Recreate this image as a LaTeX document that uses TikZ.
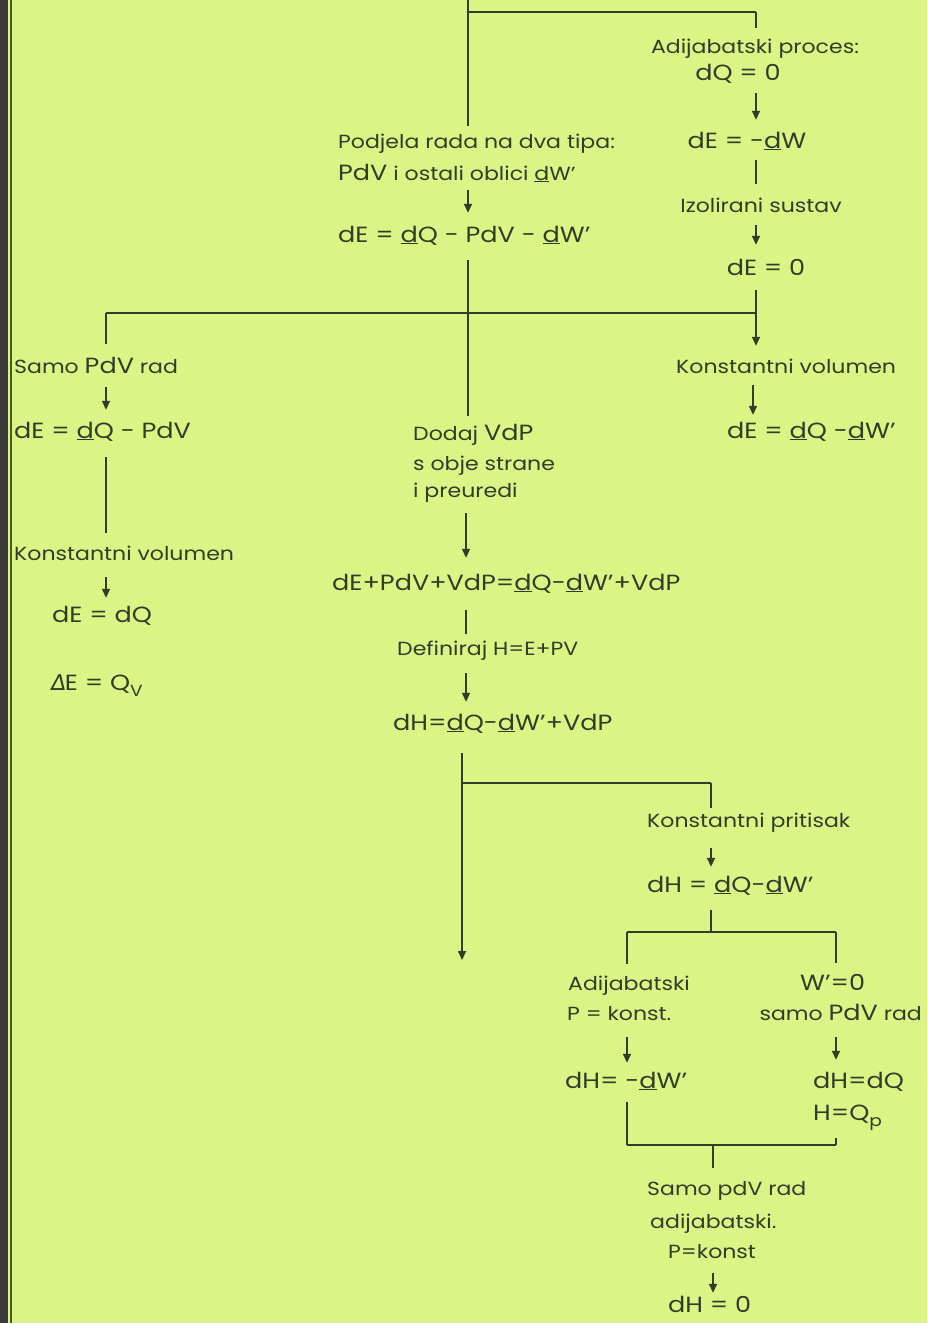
\documentclass[tikz,border=0pt]{standalone}
\usepackage{fontspec}
\setmainfont{Poppins}[FakeStretch=1.16]
\newfontfamily\symf{DejaVu Sans}[FakeSlant=0.15]
\usetikzlibrary{calc,arrows.meta}
\definecolor{bg}{RGB}{218,245,134}
\definecolor{ink}{RGB}{52,60,38}
\definecolor{strip}{RGB}{58,58,56}
\definecolor{edge}{RGB}{70,92,34}
\newcommand{\ud}{\underline{d}}
\newcommand{\bp}[1]{{\fontsize{22}{22}\selectfont #1}}
\begin{document}
\begin{tikzpicture}[x=1pt,y=-1pt,
  lab/.style={inner sep=0pt,text=ink,font=\fontsize{19}{20}\selectfont,text height=14pt,text depth=4pt},
  eq/.style={inner sep=0pt,text=ink,font=\fontsize{22}{23}\selectfont,text height=15pt,text depth=4pt},
  ln/.style={draw=ink,line width=1.6pt},
  arr/.style={ln,-{Triangle[length=9pt,width=8pt]}}]
\useasboundingbox (0,0) rectangle (927,1323);
\fill[bg] (0,0) rectangle (927,1323);
\fill[strip] (0,0) rectangle (8,1323);
\draw[edge,line width=2.5pt] (11,0) -- (11,1323);
% columns
\coordinate (cR) at (756,0);
\coordinate (cR2) at (753,0);
\coordinate (cM) at (468,0);
\coordinate (cM2) at (466,0);
\coordinate (cM3) at (462,0);
\coordinate (cL) at (106,0);
\coordinate (cK) at (711,0);
\coordinate (cK2) at (713,0);
\coordinate (cA) at (627,0);
\coordinate (cW) at (836,0);
% right top branch
\node[lab,anchor=base] (T1) at (755,53) {Adijabatski proces:};
\node[eq,anchor=base] (T2) at (738,80) {dQ = 0};
\node[eq,anchor=base] (T3) at (747,148) {dE = -\ud W};
\node[lab,anchor=base] (T4) at (761,212) {Izolirani sustav};
\node[eq,anchor=base] (T5) at (766,275) {dE = 0};
% middle top
\node[lab,anchor=base west] (T6) at (338,148) {Podjela rada na dva tipa:};
\node[lab,anchor=base west] (T7) at (338,180) {\bp{PdV} i ostali oblici \ud W'};
\node[eq,anchor=base west] (T8) at (338,242) {dE = \ud Q - PdV - \ud W'};
% left
\node[lab,anchor=base west] (T9) at (14,373) {Samo \bp{PdV} rad};
\node[eq,anchor=base west] (T10) at (14,438) {dE = \ud Q - PdV};
\node[lab,anchor=base west] (T11) at (14,560) {Konstantni volumen};
\node[eq,anchor=base west] (T12) at (52,622) {dE = dQ};
\node[eq,anchor=base west] (T13) at (50,690) {{\symf ∆}E = Q\raisebox{-0.5ex}{\fontsize{16}{16}\selectfont V}};
% right middle
\node[lab,anchor=base west] (T14) at (676,373) {Konstantni volumen};
\node[eq,anchor=base west] (T15) at (727,438) {dE = \ud Q -\ud W'};
% middle
\node[lab,anchor=base west] (T16) at (413,440) {Dodaj \bp{VdP}};
\node[lab,anchor=base west] (T17) at (413,470) {s obje strane};
\node[lab,anchor=base west] (T18) at (413,497) {i preuredi};
\node[eq,anchor=base west] (T19) at (332,590) {dE+PdV+VdP=\ud Q-\ud W'+VdP};
\node[lab,anchor=base west] (T20) at (397,655) {Definiraj H=E+PV};
\node[eq,anchor=base west] (T21) at (393,730) {dH=\ud Q-\ud W'+VdP};
% lower right
\node[lab,anchor=base west] (T22) at (647,827) {Konstantni pritisak};
\node[eq,anchor=base west] (T23) at (647,892) {dH = \ud Q-\ud W'};
\node[lab,anchor=base west] (T24) at (568,990) {Adijabatski};
\node[eq,anchor=base west] (T25) at (800,990) {W'=0};
\node[lab,anchor=base west] (T26) at (567,1020) {P = konst.};
\node[lab,anchor=base east] (T27) at (922,1020) {samo \bp{PdV} rad};
\node[eq,anchor=base west] (T28) at (565,1088) {dH= -\ud W'};
\node[eq,anchor=base west] (T29) at (813,1088) {dH=dQ};
\node[eq,anchor=base west] (T30) at (813,1120) {H=Q\raisebox{-0.5ex}{\fontsize{16}{16}\selectfont p}};
\node[lab,anchor=base west] (T31) at (647,1195) {Samo pdV rad};
\node[lab,anchor=base west] (T32) at (650,1228) {adijabatski.};
\node[lab,anchor=base west] (T33) at (668,1258) {P=konst};
\node[eq,anchor=base west] (T34) at (668,1312) {dH = 0};
% junction coordinates
\coordinate (Top) at (468,0);
\coordinate (J0L) at (468,12);
\coordinate (J0R) at (756,12);
\coordinate (J1L) at (106,313);
\coordinate (J1R) at (756,313);
\coordinate (E1) at (462,960);
\coordinate (J2L) at (462,783);
\coordinate (J2R) at (711,783);
\coordinate (J3) at (711,932);
\coordinate (J3L) at (627,932);
\coordinate (J3R) at (836,932);
\coordinate (J4L) at (627,1145);
\coordinate (J4M) at (713,1145);
\coordinate (J4R) at (836,1145);
% connectors
\draw[ln,shorten >=8pt] (Top) -- (T6.north -| cM);
\draw[ln] (J0L) -- (J0R);
\draw[ln,shorten >=11pt] (J0R) -- (T1.north -| cR);
\draw[arr,shorten <=9pt,shorten >=13pt] (T2.south -| cR) -- (T3.north -| cR);
\draw[ln,shorten <=8pt,shorten >=14pt] (T3.south -| cR) -- (T4.north -| cR);
\draw[arr,shorten <=9pt,shorten >=15pt] (T4.south -| cR) -- (T5.north -| cR);
\draw[arr,shorten <=11pt,shorten >=13pt] (T5.south -| cR) -- (T14.north -| cR);
\draw[ln] (J1L) -- (J1R);
\draw[ln,shorten >=15pt] (J1L) -- (T9.north -| cL);
\draw[arr,shorten <=6pt,shorten >=14pt] (T7.south -| cM) -- (T8.north -| cM);
\draw[ln,shorten <=14pt,shorten >=10pt] (T8.south -| cM) -- (T16.north -| cM);
\draw[arr,shorten <=10pt,shorten >=13pt] (T9.south -| cL) -- (T10.north -| cL);
\draw[ln,shorten <=15pt,shorten >=13pt] (T10.south -| cL) -- (T11.north -| cL);
\draw[arr,shorten <=13pt,shorten >=9pt] (T11.south -| cL) -- (T12.north -| cL);
\draw[arr,shorten <=8pt,shorten >=8pt] (T14.south -| cR2) -- (T15.north -| cR2);
\draw[arr,shorten <=12pt,shorten >=17pt] (T18.south -| cM2) -- (T19.north -| cM2);
\draw[ln,shorten <=16pt,shorten >=7pt] (T19.south -| cM2) -- (T20.north -| cM2);
\draw[arr,shorten <=14pt,shorten >=13pt] (T20.south -| cM2) -- (T21.north -| cM2);
\draw[arr,shorten <=19pt] (T21.south -| cM3) -- (E1);
\draw[ln] (J2L) -- (J2R);
\draw[ln,shorten >=5pt] (J2R) -- (T22.north -| cK);
\draw[arr,shorten <=17pt,shorten >=10pt] (T22.south -| cK) -- (T23.north -| cK);
\draw[ln,shorten <=14pt] (T23.south -| cK) -- (J3);
\draw[ln] (J3L) -- (J3R);
\draw[ln,shorten >=12pt] (J3L) -- (T24.north -| cA);
\draw[ln,shorten >=12pt] (J3R) -- (T25.north -| cW);
\draw[arr,shorten <=13pt,shorten >=10pt] (T26.south -| cA) -- (T28.north -| cA);
\draw[arr,shorten <=13pt,shorten >=13pt] (T27.south -| cW) -- (T29.north -| cW);
\draw[ln,shorten <=10pt] (T28.south -| cA) -- (J4L);
\draw[ln] (J4L) -- (J4R);
\draw[ln,shorten <=14pt] (T30.south -| cW) -- (J4R);
\draw[ln,shorten >=13pt] (J4M) -- (T31.north -| cK2);
\draw[arr,shorten <=11pt,shorten >=4pt] (T33.south -| cK2) -- (T34.north -| cK2);
\end{tikzpicture}
\end{document}
